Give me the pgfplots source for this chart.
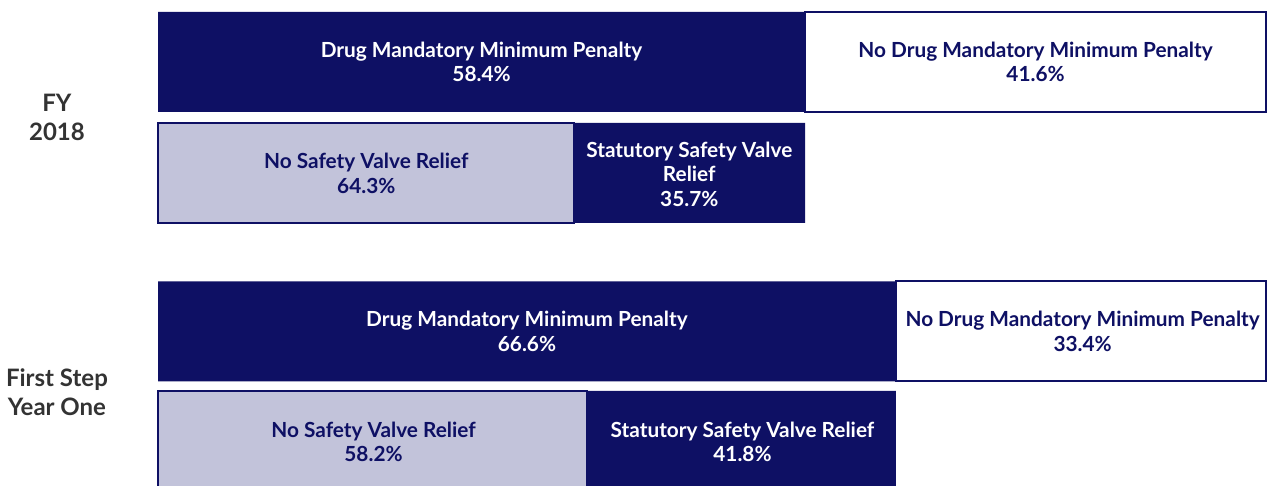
\documentclass[border=0pt]{standalone}
\usepackage{pgfplots}
\pgfplotsset{compat=1.18}
\usepackage{fontspec}
\setmainfont{Lato}
\definecolor{navy}{RGB}{14,16,100}
\definecolor{lav}{RGB}{194,195,218}
\definecolor{grp}{RGB}{51,51,51}
\pgfplotsset{base/.style={width=635pt,height=243pt,scale only axis,
  xmin=-14.26,xmax=100.36,ymin=0,ymax=486,y dir=reverse,hide axis,clip=true}}
\begin{document}
\begin{tikzpicture}[lab/.style={font=\bfseries\fontsize{10.4}{12.2}\selectfont,align=center},
  grl/.style={font=\bfseries\fontsize{12}{14.5}\selectfont,align=center,text=grp}]
% top bars: whole population
\begin{axis}[base,xbar stacked,bar width=100,name=A]
\addplot[fill=navy,draw=none] coordinates {(58.4,62) (66.6,331.5)};
\addplot[fill=white,draw=navy,line width=1pt] coordinates {(41.6,62) (33.4,331.5)};
\end{axis}
% lower bars: breakdown of the mandatory minimum share
\begin{axis}[base,xbar stacked,bar width=100]
\addplot[fill=lav,draw=navy,line width=1pt] coordinates {(37.55,173) (38.76,441)};
\addplot[fill=navy,draw=none] coordinates {(20.85,173) (27.84,441)};
\end{axis}
% labels
\begin{axis}[base]
\node[lab,text=white] at (axis cs:29.2,62) {Drug Mandatory Minimum Penalty\\58.4\%};
\node[lab,text=navy] at (axis cs:79.2,62) {No Drug Mandatory Minimum Penalty\\41.6\%};
\node[lab,text=white] at (axis cs:33.3,331.5) {Drug Mandatory Minimum Penalty\\66.6\%};
\node[lab,text=navy] at (axis cs:83.45,331.5) {No Drug Mandatory Minimum Penalty\\33.4\%};
\node[lab,text=navy] at (axis cs:18.8,173.5) {No Safety Valve Relief\\64.3\%};
\node[lab,text=white] at (axis cs:47.95,174) {Statutory Safety Valve\\Relief\\35.7\%};
\node[lab,text=navy] at (axis cs:19.45,442) {No Safety Valve Relief\\58.2\%};
\node[lab,text=white] at (axis cs:52.75,442) {Statutory Safety Valve Relief\\41.8\%};
\node[grl] at (axis cs:-9.12,117.5) {FY\\2018};
\node[grl] at (axis cs:-9.12,392.5) {First Step\\Year One};
\end{axis}
\pgfresetboundingbox
\path (A.south west) rectangle (A.north east);
\end{tikzpicture}
\end{document}
